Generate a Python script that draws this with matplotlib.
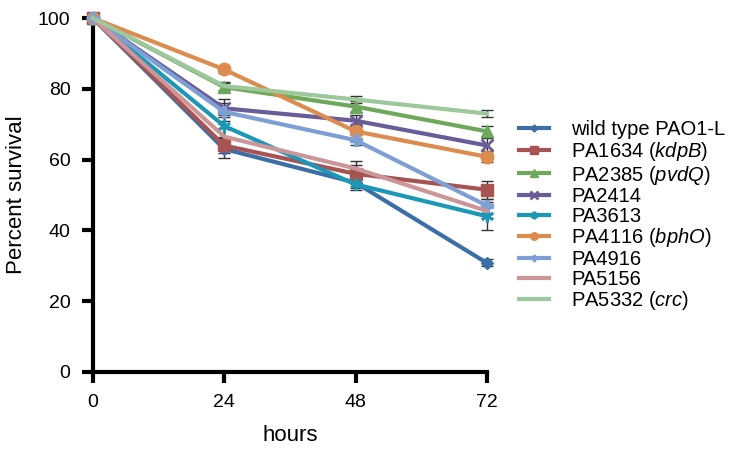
import matplotlib
matplotlib.use("Agg")
import matplotlib.pyplot as plt
import numpy as np

plt.rcParams['font.family'] = ['Liberation Sans', 'DejaVu Sans']
plt.rcParams['mathtext.fontset'] = 'custom'
plt.rcParams['mathtext.rm'] = 'Liberation Sans'
plt.rcParams['mathtext.it'] = 'Liberation Sans:italic'

hours = [0, 24, 48, 72]
x_ticks = [0, 24, 48, 72]
y_ticks = [0, 20, 40, 60, 80, 100]

strains = ["wild type PAO1-L", "PA1634 ($\\it{kdpB}$)", "PA2385 ($\\it{pvdQ}$)",
           "PA2414", "PA3613", "PA4116 ($\\it{bphO}$)", "PA4916", "PA5156",
           "PA5332 ($\\it{crc}$)"]

wild_type = [100, 63.0, 53.5, 30.8]
pa1634 = [100, 64.0, 56.0, 51.5]
pa2385 = [100, 80.5, 75.0, 68.0]
pa2414 = [100, 74.5, 71.0, 64.0]
pa3613 = [100, 69.5, 53.0, 44.0]
pa4116 = [100, 85.5, 68.0, 60.8]
pa4916 = [100, 73.5, 65.5, 47.0]
pa5156 = [100, 66.5, 57.5, 45.5]
pa5332 = [100, 80.8, 77.0, 73.0]

wild_type_err = [0, 2.5, 1.5, 1.0]
pa1634_err = [0, 2.0, 2.5, 2.5]
pa2385_err = [0, 1.5, 1.5, 1.5]
pa2414_err = [0, 2.5, 1.5, 2.0]
pa3613_err = [0, 3.0, 1.5, 4.0]
pa4116_err = [0, 1.0, 2.0, 1.5]
pa4916_err = [0, 2.5, 1.5, 2.0]
pa5156_err = [0, 2.5, 2.0, 2.0]
pa5332_err = [0, 1.0, 1.0, 1.0]

series = [wild_type, pa1634, pa2385, pa2414, pa3613, pa4116, pa4916, pa5156, pa5332]
errors = [wild_type_err, pa1634_err, pa2385_err, pa2414_err, pa3613_err,
          pa4116_err, pa4916_err, pa5156_err, pa5332_err]
colors = ["#3c6fa8", "#a65352", "#6ea85a", "#6a5b99", "#1a98b6",
          "#db8c4e", "#7d9fd4", "#cc9699", "#9dc89b"]
markers = ["D", "s", "^", "x", (6, 2, 0), "o", "P", None, None]
msizes = [6, 9, 9, 9, 9, 9, 8, 0, 0]

fig = plt.figure(figsize=(7.31, 4.53), dpi=100)
ax = fig.add_axes([0.127, 0.179, 0.539, 0.781])

# error bars first, drawn beneath the curves
for ys, es in zip(series, errors):
    ax.errorbar(hours, ys, yerr=es, fmt="none", ecolor="#333333",
                elinewidth=1.0, capsize=4, capthick=1.0, zorder=2, clip_on=False)

for name, ys, c, m, ms in zip(strains, series, colors, markers, msizes):
    ax.plot(hours, ys, color=c, lw=3.0, marker=m, markersize=ms,
            markeredgewidth=2 if m in ("x", (6, 2, 0)) else 1,
            markeredgecolor=c, label=name, zorder=3, clip_on=False)

ax.set_xlim(0, 72)
ax.set_ylim(0, 100)
ax.set_xticks(x_ticks)
ax.set_yticks(y_ticks)
ax.tick_params(axis="both", direction="out", length=8, width=3,
               labelsize=14, pad=8)
for s in ("top", "right"):
    ax.spines[s].set_visible(False)
for s in ("left", "bottom"):
    ax.spines[s].set_linewidth(3)

ax.set_xlabel("hours", fontsize=16, labelpad=10)
ax.set_ylabel("Percent survival", fontsize=16, labelpad=8)

leg = ax.legend(loc="center left", bbox_to_anchor=(1.035, 0.44), frameon=False,
                fontsize=14.5, handlelength=1.5, handletextpad=1.1,
                labelspacing=0.03, markerscale=0.6)

fig.savefig("out.png", dpi=100)
